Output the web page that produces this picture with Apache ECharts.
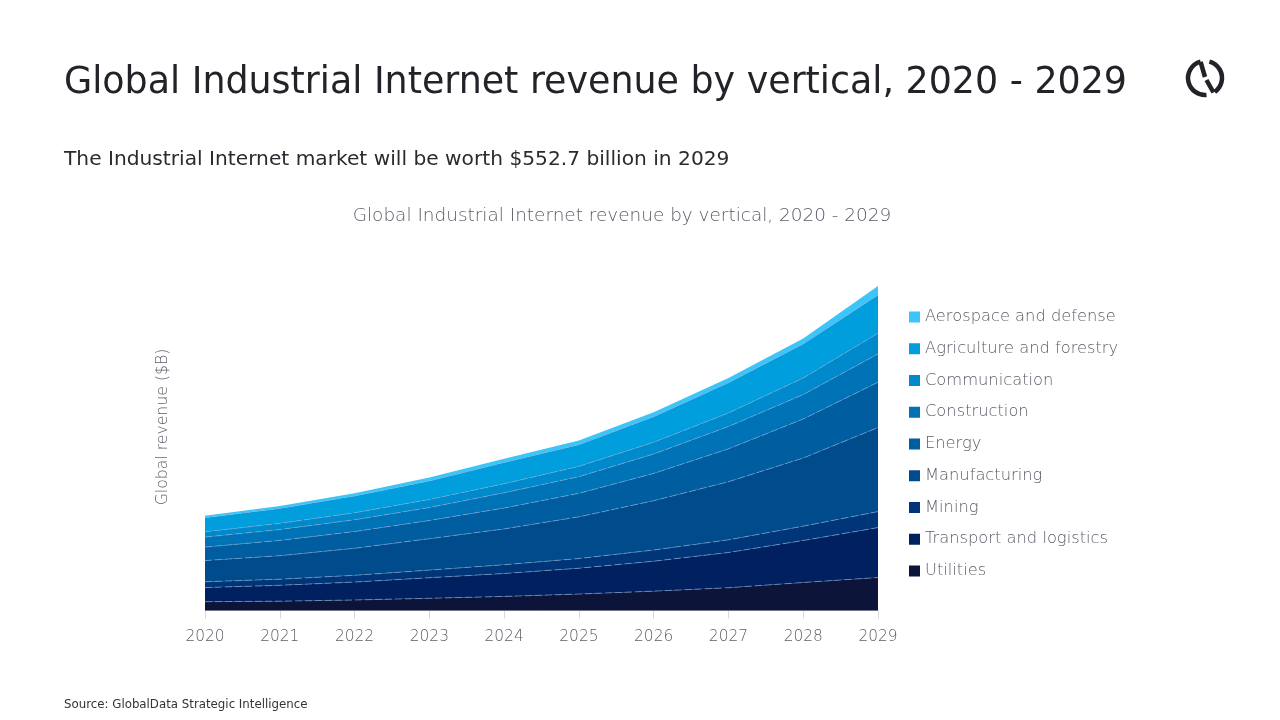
<!DOCTYPE html>
<html>
<head>
<meta charset="utf-8">
<script src="https://cdn.jsdelivr.net/npm/echarts@6/dist/echarts.min.js"></script>
<style>
  html, body { margin: 0; padding: 0; background: #fff; }
  #chart { width: 1280px; height: 720px; }
</style>
</head>
<body>
<div id="chart"></div>
<script>
// years on the x axis
var years = ['2020', '2021', '2022', '2023', '2024', '2025', '2026', '2027', '2028', '2029'];

// revenue by vertical, $B
var utilities      = [15.0, 15.9, 17.9, 20.8, 24.0, 28.0, 33.0, 38.8, 47.7, 56.2];
var transport      = [24.0, 27.0, 30.5, 35.0, 39.0, 44.0, 51.0, 60.0, 71.5, 85.0];
var mining         = [10.0, 10.5, 11.5, 13.0, 15.0, 16.5, 19.0, 21.5, 24.5, 27.3];
var manufacturing  = [36.0, 40.0, 46.0, 53.5, 61.0, 71.0, 84.0, 99.0, 116.0, 143.0];
var energy         = [23.0, 26.0, 28.5, 31.0, 35.5, 40.0, 46.5, 56.0, 66.5, 77.3];
var construction   = [17.0, 18.5, 20.0, 22.0, 26.0, 28.5, 33.0, 38.0, 41.5, 48.2];
var communication  = [9.0, 10.5, 12.0, 13.8, 15.5, 17.5, 20.0, 23.2, 28.4, 35.3];
var agriculture    = [24.0, 25.5, 28.5, 31.5, 36.0, 37.0, 43.5, 51.5, 58.0, 64.9];
var aerospace      = [3.5, 4.2, 5.0, 5.8, 6.5, 7.0, 7.5, 8.0, 9.0, 15.5];

var layers = [
  { name: 'Utilities', data: utilities, color: '#0c1439' },
  { name: 'Transport and logistics', data: transport, color: '#002060' },
  { name: 'Mining', data: mining, color: '#003677' },
  { name: 'Manufacturing', data: manufacturing, color: '#004b8c' },
  { name: 'Energy', data: energy, color: '#005d9f' },
  { name: 'Construction', data: construction, color: '#0072b6' },
  { name: 'Communication', data: communication, color: '#008acb' },
  { name: 'Agriculture and forestry', data: agriculture, color: '#009edc' },
  { name: 'Aerospace and defense', data: aerospace, color: '#3cc5f8' }
];

var lastTotal = 0;
layers.forEach(function (l) { lastTotal += l.data[l.data.length - 1]; });

var font = 'DejaVu Sans';
var grey = '#5c5c68';
var ink = '#222228';

var chart = echarts.init(document.getElementById('chart'));

var series = layers.map(function (l, i) {
  return {
    name: l.name,
    type: 'line',
    stack: 'total',
    data: l.data,
    symbol: 'none',
    color: l.color,
    lineStyle: i === layers.length - 1
      ? { width: 0 }
      : { width: 1, type: [7, 3], color: 'rgba(130,165,210,0.65)' },
    areaStyle: { color: l.color, opacity: 1 },
    emphasis: { disabled: true },
    z: 2
  };
});

function deg(d) { return d * Math.PI / 180; }

chart.setOption({
  animation: false,
  textStyle: { fontFamily: font },
  title: [
    {
      text: 'Global Industrial Internet revenue by vertical, 2020 - 2029',
      left: 59, top: 61,
      textStyle: { fontSize: 36.4, fontWeight: 'normal', color: ink, fontFamily: font }
    },
    {
      text: 'The Industrial Internet market will be worth $552.7 billion in 2029',
      left: 59, top: 145,
      textStyle: { fontSize: 20.2, fontWeight: 'normal', color: '#2a2a30', fontFamily: font }
    },
    {
      text: 'Global Industrial Internet revenue by vertical, 2020 - 2029',
      left: 617, top: 202, textAlign: 'center',
      textStyle: { fontSize: 18.45, fontWeight: 300, color: grey, fontFamily: font }
    },
    {
      text: 'Source: GlobalData Strategic Intelligence',
      left: 59, top: 694,
      textStyle: { fontSize: 11.8, fontWeight: 'normal', color: '#333', fontFamily: font }
    }
  ],
  legend: {
    orient: 'vertical',
    left: 904, top: 303,
    itemWidth: 11, itemHeight: 11,
    itemGap: 13.75,
    icon: 'rect',
    data: layers.slice().reverse().map(function (l) { return l.name; }),
    textStyle: { fontSize: 16.3, fontWeight: 300, color: grey, lineHeight: 18, fontFamily: font },
    selectedMode: false
  },
  grid: { left: 205, right: 402, top: 286, bottom: 109.5, containLabel: false },
  xAxis: {
    type: 'category',
    data: years,
    boundaryGap: false,
    axisLine: { show: true, lineStyle: { color: '#d9d9df', width: 1 } },
    axisTick: { show: true, alignWithLabel: true, length: 8, lineStyle: { color: '#d9d9df' } },
    axisLabel: { color: grey, fontSize: 15.4, fontWeight: 300, margin: 19, fontFamily: font },
    z: 1
  },
  yAxis: {
    type: 'value',
    min: 0,
    max: lastTotal,
    axisLine: { show: false },
    axisTick: { show: false },
    axisLabel: { show: false },
    splitLine: { show: false }
  },
  graphic: [
    {
      type: 'text',
      x: 163, y: 427,
      rotation: Math.PI / 2,
      style: {
        text: 'Global revenue ($B)',
        x: 0, y: 0,
        align: 'center', verticalAlign: 'middle',
        fill: grey, fontSize: 15.7, fontWeight: 300, fontFamily: font
      }
    },
    {
      type: 'arc',
      shape: { cx: 1205, cy: 78, r: 17, startAngle: deg(255), endAngle: deg(85), clockwise: false },
      style: { stroke: ink, lineWidth: 4.5, fill: null }
    },
    {
      type: 'arc',
      shape: { cx: 1205, cy: 78, r: 17, startAngle: deg(285), endAngle: deg(55), clockwise: true },
      style: { stroke: ink, lineWidth: 4.5, fill: null }
    },
    {
      type: 'line',
      shape: { x1: 1200.6, y1: 62, x2: 1205, y2: 77 },
      style: { stroke: ink, lineWidth: 4.5 }
    },
    {
      type: 'line',
      shape: { x1: 1206.5, y1: 80, x2: 1213.5, y2: 92.5 },
      style: { stroke: ink, lineWidth: 4.5 }
    }
  ],
  series: series
});
</script>
</body>
</html>
